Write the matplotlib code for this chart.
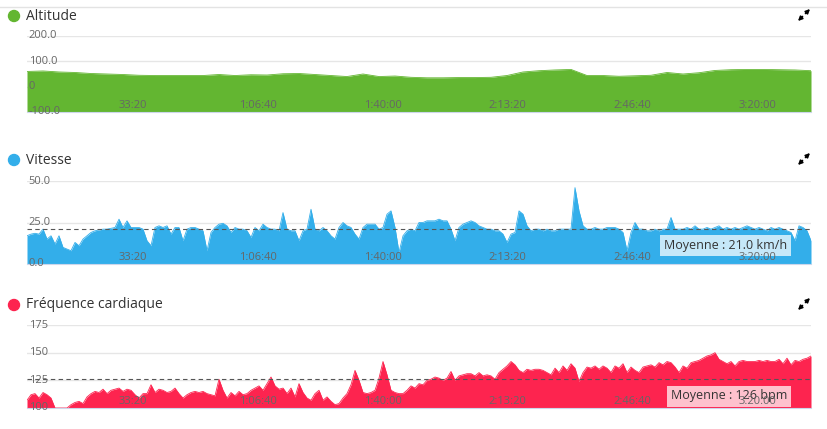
import numpy as np
import matplotlib
matplotlib.use('Agg')
import matplotlib.pyplot as plt
from matplotlib.patches import Ellipse, FancyArrowPatch
from matplotlib.lines import Line2D

plt.rcParams['font.family'] = ['Open Sans', 'DejaVu Sans']

# recording: first sample at 310 s
t_start = 310
step_fast = 64      # speed / heart rate sample interval (s)
step_alt = 256      # altitude sample interval (s)

altitude = [60, 62, 58, 56, 52, 50, 48, 45, 44, 44,
            44, 44, 48, 44, 47, 46, 51, 52, 48, 44,
            40, 50, 40, 42, 37, 35, 35, 36, 36, 37,
            44, 58, 63, 66, 68, 44, 44, 41, 43, 45,
            56, 50, 55, 64, 67, 68, 68, 67, 66, 63]

speed = [17, 18, 18.5, 18, 21, 15, 17, 12, 17, 10,
         9, 8, 13, 11, 15, 17, 19, 20, 20.5, 21,
         21, 21.5, 22, 27, 22, 26, 22, 22, 22, 21,
         14, 11, 22, 23, 22, 23, 18, 22, 22, 14,
         21, 22, 22, 21, 20, 8, 19, 22, 24, 24.5,
         23, 19, 22, 21, 21, 20, 16, 22, 20, 24,
         22, 21, 21, 20, 31, 21, 20, 20, 14, 20,
         21, 33, 21, 20, 22, 20, 17, 15, 22, 25,
         23, 22, 18, 15, 22, 24, 24, 24, 21, 22,
         30, 32, 22, 7, 17, 20, 21, 20, 25, 25,
         26, 26, 26, 27, 26, 26, 21, 14, 22, 24,
         25, 26, 25, 23, 22, 21, 21, 20, 20, 18,
         13, 18, 19, 32, 30, 23, 20, 21, 21, 20,
         21, 20, 20, 21, 21, 21, 21, 46, 32, 23,
         21, 21, 22, 21, 21, 22, 22, 22, 21, 19,
         8, 19, 25, 21, 21, 20, 20, 21, 20, 21,
         21, 28, 21, 21, 21, 22, 21, 23, 21, 21,
         22, 21, 22, 23, 21, 22, 21, 22, 21, 22,
         23, 22, 21, 22, 21, 20, 22, 21, 22, 21,
         20, 19, 14, 23, 22, 20, 14]

heart_rate = [107, 112, 113, 109, 114, 112, 109, 100, 100, 100,
              100, 103, 105, 106, 104, 110, 113, 115, 114, 117,
              113, 116, 117, 118, 115, 117, 116, 112, 109, 113,
              113, 121, 114, 117, 116, 114, 115, 118, 113, 109,
              112, 114, 115, 114, 115, 113, 112, 111, 126, 116,
              109, 114, 111, 115, 112, 113, 116, 118, 120, 116,
              122, 128, 120, 117, 118, 113, 118, 110, 122, 114,
              109, 107, 113, 116, 107, 110, 106, 103, 104, 109,
              113, 121, 134, 125, 114, 113, 114, 116, 127, 142,
              130, 116, 114, 113, 113, 116, 120, 118, 122, 121,
              125, 126, 128, 127, 125, 127, 133, 125, 129, 130,
              131, 131, 129, 132, 129, 130, 129, 126, 132, 135,
              138, 142, 139, 134, 132, 135, 134, 135, 135, 134,
              132, 130, 136, 132, 138, 134, 140, 136, 124, 132,
              137, 136, 138, 135, 138, 136, 132, 138, 136, 140,
              132, 137, 134, 132, 137, 138, 139, 137, 141, 139,
              142, 141, 137, 132, 138, 136, 141, 142, 143, 145,
              147, 148, 150, 144, 142, 140, 142, 138, 142, 143,
              142, 142, 142, 143, 142, 143, 142, 142, 144, 140,
              145, 139, 143, 142, 144, 145, 147]

speed_mean = 21.0
hr_mean = 126

x_ticks = [2000, 4000, 6000, 8000, 10000, 12000]

t_alt = t_start + step_alt * np.arange(len(altitude))
t_speed = t_start + step_fast * np.arange(len(speed))
t_hr = t_start + step_fast * np.arange(len(heart_rate))
t_end = t_start + step_fast * (len(speed) - 1)


def fmt_time(s):
    h, rem = divmod(int(s), 3600)
    m, sec = divmod(rem, 60)
    if h == 0:
        return f"{m}:{sec:02d}"
    return f"{h}:{m:02d}:{sec:02d}"


W, H = 827, 429
fig = plt.figure(figsize=(W / 100, H / 100), dpi=100)
fig.patch.set_facecolor('white')


def fx(px):
    return px / W


def fy(py):
    return 1 - py / H


# card top border
fig.add_artist(Line2D([0, 1], [fy(7), fy(7)], color='#e3e3e3', lw=1))

panels = [
    dict(title='Altitude', color='#63b631', t=t_alt, y=altitude,
         ylim=(-100, 200), yticks=[-100, 0, 100, 200],
         ylabels=['-100.0', '0', '100.0', '200.0'],
         top=36, bottom=112, title_y=16, mean=None, mean_text=None, box_y=None),
    dict(title='Vitesse', color='#33aeea', t=t_speed, y=speed,
         ylim=(0, 50), yticks=[0, 25, 50],
         ylabels=['0.0', '25.0', '50.0'],
         top=181, bottom=264, title_y=160, mean=speed_mean,
         mean_text=f'Moyenne : {speed_mean:.1f} km/h', box_y=245),
    dict(title='Fréquence cardiaque', color='#fd244f', t=t_hr, y=heart_rate,
         ylim=(100, 175), yticks=[100, 125, 150, 175],
         ylabels=['100', '125', '150', '175'],
         top=325, bottom=408, title_y=305, mean=hr_mean,
         mean_text=f'Moyenne : {hr_mean} bpm', box_y=396),
]

left_px, right_px = 27, 811

for p in panels:
    ax = fig.add_axes([fx(left_px), fy(p['bottom']),
                       (right_px - left_px) / W, (p['bottom'] - p['top']) / H])
    ax.set_xlim(t_start, t_end)
    ax.set_ylim(*p['ylim'])
    ax.fill_between(p['t'], p['ylim'][0], p['y'], color=p['color'], lw=0, zorder=2)
    ax.plot(p['t'], p['y'], color=p['color'], lw=0.6, zorder=2)

    for v, lab in zip(p['yticks'], p['ylabels']):
        ax.axhline(v, color='#e6e6e6', lw=1, zorder=0)
        ax.text(0.002, v, lab, transform=ax.get_yaxis_transform(),
                ha='left', va='center', fontsize=8, color='#666666', zorder=6)

    for xt in x_ticks:
        ax.annotate(fmt_time(xt), xy=(xt, 0), xycoords=('data', 'axes fraction'),
                    xytext=(0, 7), textcoords='offset pixels',
                    ha='center', va='center', fontsize=8, color='#666666', zorder=6)

    if p['mean'] is not None:
        ax.axhline(p['mean'], color='#555555', lw=0.8, ls=(0, (4, 3)), zorder=3)
        box_axes_y = (p['bottom'] - p['box_y']) / (p['bottom'] - p['top'])
        ax.text((787 - left_px) / (right_px - left_px), box_axes_y, p['mean_text'],
                transform=ax.transAxes, ha='right', va='center', fontsize=9,
                color='#333333', zorder=5,
                bbox=dict(boxstyle='square,pad=0.32', fc='white', alpha=0.72, ec='none'))

    ax.set_xticks([])
    ax.set_yticks([])
    for side in ['top', 'left', 'right']:
        ax.spines[side].set_visible(False)
    ax.spines['bottom'].set_color('#ccd6eb')
    ax.set_facecolor('none')

    # legend-like title with coloured dot
    ty = p['title_y']
    fig.add_artist(Ellipse((fx(14), fy(ty)), 11 / W, 11 / H, color=p['color']))
    fig.text(fx(26), fy(ty), p['title'], fontsize=10,
             color='#333333', ha='left', va='center')

    # expand icon: two small arrows pointing outwards, with a gap between them
    cx, cy = 804, ty - 1
    for sx, sy in [(1, -1), (-1, 1)]:
        fig.add_artist(FancyArrowPatch(
            (fx(cx + 1.5 * sx), fy(cy + 1.5 * sy)), (fx(cx + 6 * sx), fy(cy + 6 * sy)),
            transform=fig.transFigure, arrowstyle='-|>', mutation_scale=6,
            lw=1.2, color='black', shrinkA=0, shrinkB=0))

fig.savefig('out.png', dpi=100)
